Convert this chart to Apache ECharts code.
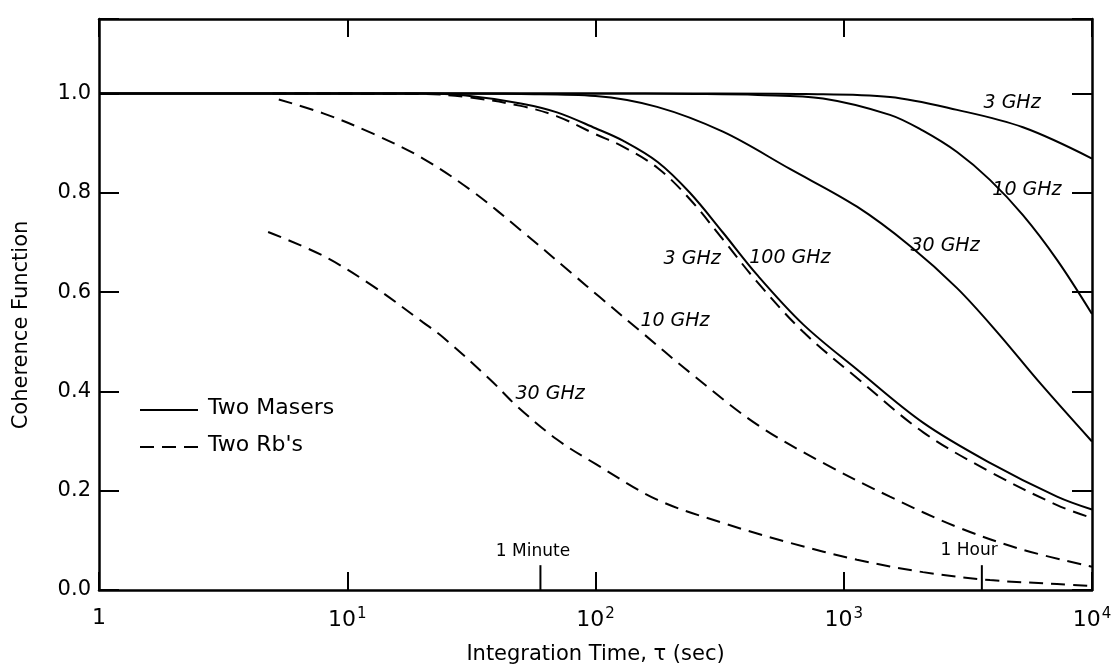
<!DOCTYPE html>
<html>
<head>
<meta charset="utf-8">
<script src="https://cdn.jsdelivr.net/npm/echarts@6/dist/echarts.min.js"></script>
<style>
html,body{margin:0;padding:0;background:#fff;}
#chart{width:1118px;height:666px;}
</style>
</head>
<body>
<div id="chart"></div>
<script>
// ---- data (x = integration time in s, y = coherence) ----
const maser3GHz = [[1,1],[100,1],[300,1],[700,0.999],[1535,0.993],[2860,0.967],[5270,0.932],[10000,0.869]];
const maser10GHz = [[1,1],[100,1],[250,0.999],[450,0.997],[825,0.99],[1535,0.957],[2085,0.925],[2860,0.882],[3880,0.826],[5270,0.755],[7230,0.665],[10000,0.556]];
const maser30GHz = [[1,1],[25,1],[50,0.999],[100,0.995],[177,0.973],[326,0.923],[607,0.848],[1131,0.772],[1850,0.693],[2860,0.608],[4140,0.52],[6170,0.417],[10000,0.299]];
const maser100GHz = [[1,1],[20,1],[30,0.996],[50,0.98],[70,0.962],[100,0.93],[129,0.905],[178,0.862],[240,0.80],[326,0.72],[447,0.635],[686,0.535],[1131,0.444],[2085,0.337],[3882,0.256],[7230,0.188],[10000,0.162]];
const rb3GHz = [[5,1],[20,0.999],[30,0.993],[50,0.975],[70,0.954],[100,0.918],[129,0.893],[178,0.85],[240,0.787],[326,0.706],[447,0.621],[686,0.52],[1131,0.427],[2085,0.318],[3882,0.238],[7230,0.171],[10000,0.145]];
const rb10GHz = [[5.3,0.988],[8,0.96],[12.7,0.919],[20.2,0.869],[32.1,0.802],[51,0.721],[81,0.636],[104,0.59],[151,0.522],[240,0.438],[448,0.333],[825,0.256],[1535,0.188],[2860,0.127],[5270,0.081],[10000,0.047]];
const rb30GHz = [[4.8,0.721],[8,0.673],[12.7,0.612],[20.2,0.539],[24.3,0.509],[37.6,0.424],[48.3,0.37],[70,0.303],[100,0.254],[177,0.182],[326,0.135],[607,0.095],[1131,0.061],[2085,0.036],[3882,0.02],[7230,0.012],[10000,0.008]];

// curve annotations: [x, y, text]
const curveLabels = [
  [4764, 0.98, '3 GHz'],
  [5470, 0.806, '10 GHz'],
  [2558, 0.693, '30 GHz'],
  [245, 0.667, '3 GHz'],
  [607, 0.669, '100 GHz'],
  [209, 0.541, '10 GHz'],
  [65.6, 0.394, '30 GHz']
];
// time markers on the x axis
const timeMarks = [60, 3600];
const timeMarkLabels = ['1 Minute', '1 Hour'];
const timeMarkLabelPos = [[56, 0.077], [3200, 0.079]];
const timeMarkHeight = 0.05;

const yTicks = [0, 0.2, 0.4, 0.6, 0.8, 1.0];
const legendNames = ['Two Masers', "Two Rb's"];
const yTitle = 'Coherence Function';
const xTitle = 'Integration Time, \u03c4 (sec)';

const FONT = 'DejaVu Sans';
const chart = echarts.init(document.getElementById('chart'), null, {renderer: 'canvas'});

function solid(data) {
  return {type: 'line', data: data, symbol: 'none', smooth: 0.35, silent: true,
    lineStyle: {color: '#000', width: 2}, z: 3};
}
function dashed(data) {
  return {type: 'line', data: data, symbol: 'none', smooth: 0.35, silent: true,
    lineStyle: {color: '#000', width: 2, type: [14, 8]}, z: 3};
}

const series = [
  solid(maser3GHz), solid(maser10GHz), solid(maser30GHz), solid(maser100GHz),
  dashed(rb3GHz), dashed(rb10GHz), dashed(rb30GHz),
  {
    type: 'scatter', symbolSize: 0, silent: true, itemStyle: {opacity: 1, color: '#000'},
    data: curveLabels.map(d => ({value: [d[0], d[1]], name: d[2]})),
    label: {show: true, position: [0, 0], align: 'center', verticalAlign: 'middle',
      formatter: p => p.name, textBorderWidth: 0, opacity: 1,
      fontFamily: FONT, fontStyle: 'italic', fontSize: 19, color: '#000'}
  },
  {
    type: 'scatter', symbolSize: 0, silent: true, itemStyle: {opacity: 1, color: '#000'},
    data: timeMarkLabels.map((t, i) => ({value: timeMarkLabelPos[i], name: t})),
    label: {show: true, position: [0, 0], align: 'center', verticalAlign: 'middle',
      formatter: p => p.name, textBorderWidth: 0, opacity: 1,
      fontFamily: FONT, fontSize: 17, color: '#000'}
  }
];
timeMarks.forEach(t => {
  series.push({type: 'line', data: [[t, 0], [t, timeMarkHeight]], symbol: 'none', silent: true,
    lineStyle: {color: '#000', width: 2}, z: 4});
});

const xCommon = {
  type: 'log', logBase: 10, min: 1, max: 10000,
  axisLine: {show: true, onZero: false, lineStyle: {color: '#000', width: 2.5}},
  axisTick: {show: true, inside: true, length: 18, lineStyle: {color: '#000', width: 2}},
  minorTick: {show: false}, splitLine: {show: false}
};
const yCommon = {
  type: 'value', min: 0, max: 1.15, interval: 0.2,
  axisLine: {show: true, onZero: false, lineStyle: {color: '#000', width: 2.5}},
  axisTick: {show: true, inside: true, length: 20, lineStyle: {color: '#000', width: 2}},
  splitLine: {show: false}
};

const option = {
  backgroundColor: '#fff',
  animation: false,
  grid: {left: 99, right: 26, top: 19, bottom: 76, containLabel: false, outerBoundsMode: 'none'},
  xAxis: [
    Object.assign({}, xCommon, {
      position: 'bottom',
      name: xTitle, nameLocation: 'middle', nameGap: 54,
      nameTextStyle: {fontFamily: FONT, fontSize: 21, color: '#000'},
      axisLabel: {
        margin: 17, color: '#000', fontFamily: FONT,
        formatter: v => {
          const e = Math.round(Math.log10(v));
          return e === 0 ? '{b|1}' : '{b|10}{s|' + e + '}';
        },
        rich: {
          b: {fontFamily: FONT, fontSize: 22, color: '#000'},
          s: {fontFamily: FONT, fontSize: 15, color: '#000', verticalAlign: 'bottom', padding: [0, 0, 12, 1]}
        }
      }
    }),
    Object.assign({}, xCommon, {position: 'top', axisLabel: {show: false}})
  ],
  yAxis: [
    Object.assign({}, yCommon, {
      position: 'left',
      axisLabel: {margin: 8, color: '#000', fontFamily: FONT, fontSize: 21,
        formatter: v => (yTicks.some(t => Math.abs(t - v) < 1e-6) ? v.toFixed(1) : '')}
    }),
    Object.assign({}, yCommon, {position: 'right', axisLabel: {show: false}})
  ],
  graphic: [
    {type: 'text', x: 22, y: 325, rotation: Math.PI / 2,
      style: {text: yTitle, font: '21px "DejaVu Sans"', fill: '#000', align: 'center', verticalAlign: 'middle'}},
    {type: 'line', shape: {x1: 140, y1: 410, x2: 198, y2: 410}, style: {stroke: '#000', lineWidth: 2}},
    {type: 'text', left: 208, top: 397, style: {text: legendNames[0], font: '22px "DejaVu Sans"', fill: '#000'}},
    {type: 'line', shape: {x1: 140, y1: 447, x2: 198, y2: 447}, style: {stroke: '#000', lineWidth: 2, lineDash: [14, 8]}},
    {type: 'text', left: 208, top: 434, style: {text: legendNames[1], font: '22px "DejaVu Sans"', fill: '#000'}}
  ],
  series: series
};
chart.setOption(option);
</script>
</body>
</html>
